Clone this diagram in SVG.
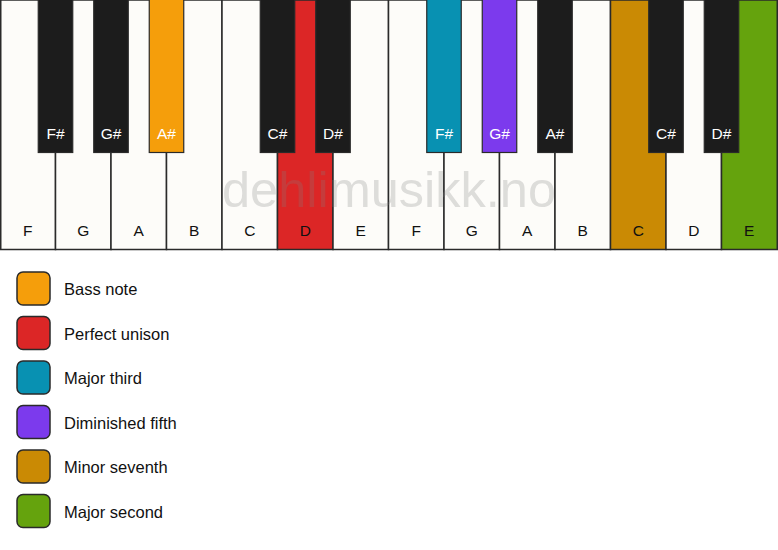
<svg xmlns="http://www.w3.org/2000/svg" width="778" height="550" viewBox="0 0 778 550">
<style>
.w{fill:#fdfcf9;stroke:#2a2a2a;stroke-width:1.5}
.b{fill:#1c1c1c;stroke:#2a2a2a;stroke-width:1.2}
.wl{font-family:"Liberation Sans",Arial,sans-serif;font-size:15.5px;fill:#111;text-anchor:middle}
.bl{font-family:"Liberation Sans",Arial,sans-serif;font-size:15.5px;fill:#fff;text-anchor:middle}
.lg{stroke:#2a2a2a;stroke-width:1.5}
.lt{font-family:"Liberation Sans",Arial,sans-serif;font-size:16.5px;fill:#111}
</style>
<rect width="778" height="550" fill="#ffffff"/>
<g id="white-keys">
<g id="wk-F1"><rect class="w" x="0.75" y="0" width="54.75" height="249.5"/><text class="wl" x="27.75" y="236">F</text></g>
<g id="wk-G1"><rect class="w" x="55.5" y="0" width="55.5" height="249.5"/><text class="wl" x="83.25" y="236">G</text></g>
<g id="wk-A1"><rect class="w" x="111" y="0" width="55.5" height="249.5"/><text class="wl" x="138.75" y="236">A</text></g>
<g id="wk-B1"><rect class="w" x="166.5" y="0" width="55.5" height="249.5"/><text class="wl" x="194.25" y="236">B</text></g>
<g id="wk-C1"><rect class="w" x="222" y="0" width="55.5" height="249.5"/><text class="wl" x="249.75" y="236">C</text></g>
<g id="wk-D1"><rect class="w" x="277.5" y="0" width="55.5" height="249.5" style="fill:#dc2626"/><text class="wl" x="305.25" y="236">D</text></g>
<g id="wk-E1"><rect class="w" x="333" y="0" width="55.5" height="249.5"/><text class="wl" x="360.75" y="236">E</text></g>
<g id="wk-F2"><rect class="w" x="388.5" y="0" width="55.5" height="249.5"/><text class="wl" x="416.25" y="236">F</text></g>
<g id="wk-G2"><rect class="w" x="444" y="0" width="55.5" height="249.5"/><text class="wl" x="471.75" y="236">G</text></g>
<g id="wk-A2"><rect class="w" x="499.5" y="0" width="55.5" height="249.5"/><text class="wl" x="527.25" y="236">A</text></g>
<g id="wk-B2"><rect class="w" x="555" y="0" width="55.5" height="249.5"/><text class="wl" x="582.75" y="236">B</text></g>
<g id="wk-C2"><rect class="w" x="610.5" y="0" width="55.5" height="249.5" style="fill:#ca8a04"/><text class="wl" x="638.25" y="236">C</text></g>
<g id="wk-D2"><rect class="w" x="666" y="0" width="55.5" height="249.5"/><text class="wl" x="693.75" y="236">D</text></g>
<g id="wk-E2"><rect class="w" x="721.5" y="0" width="55.75" height="249.5" style="fill:#65a30d"/><text class="wl" x="749.25" y="236">E</text></g>
</g>
<text x="389" y="207" font-family="'Liberation Sans',Arial,sans-serif" font-size="50.5" fill="#808080" fill-opacity="0.25" text-anchor="middle">dehlimusikk.no</text>
<g id="black-keys">
<g id="bk-Fs1"><rect class="b" x="38.25" y="-1" width="34.5" height="153.5"/><text class="bl" x="55.5" y="139">F#</text></g>
<g id="bk-Gs1"><rect class="b" x="93.75" y="-1" width="34.5" height="153.5"/><text class="bl" x="111" y="139">G#</text></g>
<g id="bk-As1"><rect class="b" x="149.25" y="-1" width="34.5" height="153.5" style="fill:#f59e0b"/><text class="bl" x="166.5" y="139">A#</text></g>
<g id="bk-Cs1"><rect class="b" x="260.25" y="-1" width="34.5" height="153.5"/><text class="bl" x="277.5" y="139">C#</text></g>
<g id="bk-Ds1"><rect class="b" x="315.75" y="-1" width="34.5" height="153.5"/><text class="bl" x="333" y="139">D#</text></g>
<g id="bk-Fs2"><rect class="b" x="426.75" y="-1" width="34.5" height="153.5" style="fill:#0891b2"/><text class="bl" x="444" y="139">F#</text></g>
<g id="bk-Gs2"><rect class="b" x="482.25" y="-1" width="34.5" height="153.5" style="fill:#7c3aed"/><text class="bl" x="499.5" y="139">G#</text></g>
<g id="bk-As2"><rect class="b" x="537.75" y="-1" width="34.5" height="153.5"/><text class="bl" x="555" y="139">A#</text></g>
<g id="bk-Cs2"><rect class="b" x="648.75" y="-1" width="34.5" height="153.5"/><text class="bl" x="666" y="139">C#</text></g>
<g id="bk-Ds2"><rect class="b" x="704.25" y="-1" width="34.5" height="153.5"/><text class="bl" x="721.5" y="139">D#</text></g>
</g>
<g id="connectors"></g>
<g id="legend">
<g id="lg-bass"><rect class="lg" x="17" y="272" width="33" height="33" rx="6" fill="#f59e0b"/><text class="lt" x="64" y="295">Bass note</text></g>
<g id="lg-unison"><rect class="lg" x="17" y="316.5" width="33" height="33" rx="6" fill="#dc2626"/><text class="lt" x="64" y="339.5">Perfect unison</text></g>
<g id="lg-third"><rect class="lg" x="17" y="361" width="33" height="33" rx="6" fill="#0891b2"/><text class="lt" x="64" y="384">Major third</text></g>
<g id="lg-fifth"><rect class="lg" x="17" y="405.5" width="33" height="33" rx="6" fill="#7c3aed"/><text class="lt" x="64" y="428.5">Diminished fifth</text></g>
<g id="lg-seventh"><rect class="lg" x="17" y="450" width="33" height="33" rx="6" fill="#ca8a04"/><text class="lt" x="64" y="473">Minor seventh</text></g>
<g id="lg-second"><rect class="lg" x="17" y="494.5" width="33" height="33" rx="6" fill="#65a30d"/><text class="lt" x="64" y="517.5">Major second</text></g>
</g>
</svg>
